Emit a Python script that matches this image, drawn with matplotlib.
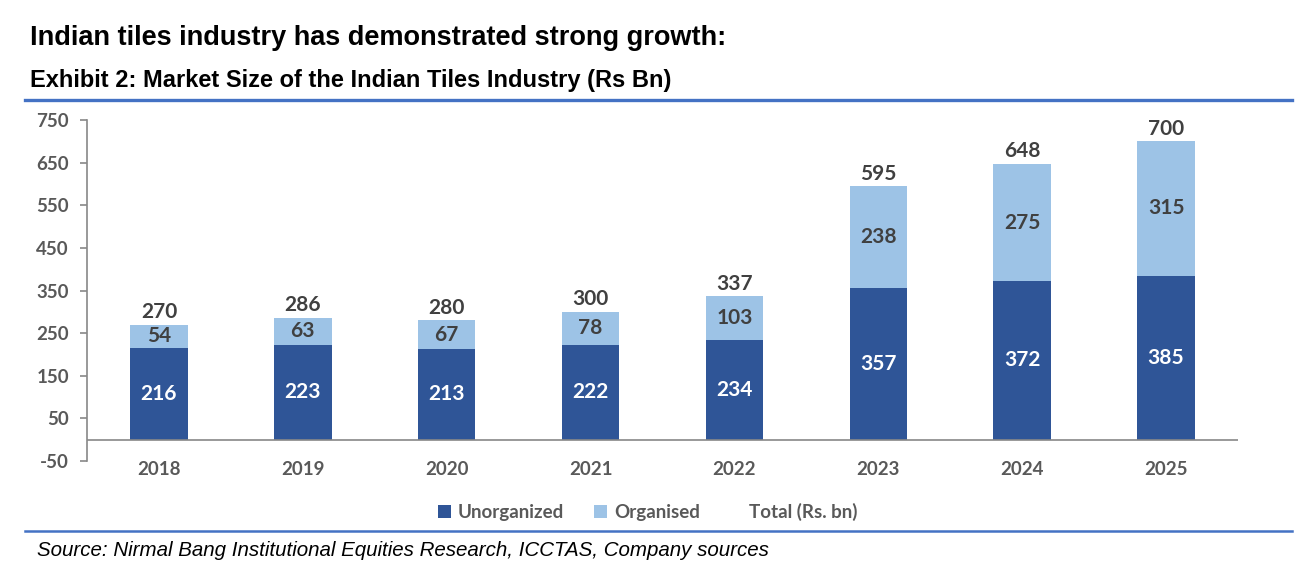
import matplotlib
matplotlib.use("Agg")
import matplotlib.pyplot as plt
from matplotlib.patches import Patch
from matplotlib.lines import Line2D

years = ["2018", "2019", "2020", "2021", "2022", "2023", "2024", "2025"]
unorganized = [216, 223, 213, 222, 234, 357, 372, 385]
organised = [54, 63, 67, 78, 103, 238, 275, 315]
total = [270, 286, 280, 300, 337, 595, 648, 700]
yticks = [-50, 50, 150, 250, 350, 450, 550, 650, 750]

DARK = "#2F5597"
LIGHT = "#9DC3E6"
LINE_BLUE = "#4472C4"
TICK_C = "#595959"
LBL_C = "#404040"
NUM_FONT = "Lato"

W, H = 1307, 575
fig = plt.figure(figsize=(W / 100, H / 100), dpi=100)

def fx(px):
    return px / W

def fy(py):
    return 1 - py / H

fig.text(fx(30), fy(38), "Indian tiles industry has demonstrated strong growth:",
         fontsize=19.5, fontweight="bold", family="Liberation Sans", va="center", ha="left", color="black")
fig.text(fx(30), fy(80), "Exhibit 2: Market Size of the Indian Tiles Industry (Rs Bn)",
         fontsize=17, fontweight="bold", family="Liberation Sans", va="center", ha="left", color="black")
fig.add_artist(Line2D([fx(25), fx(1292)], [fy(100), fy(100)], color=LINE_BLUE, lw=2.4))
fig.add_artist(Line2D([fx(25), fx(1292)], [fy(531), fy(531)], color=LINE_BLUE, lw=1.8))
fig.text(fx(37), fy(551), "Source: Nirmal Bang Institutional Equities Research, ICCTAS, Company sources",
         fontsize=14.8, fontstyle="italic", family="Liberation Sans", va="center", ha="left", color="black")

ax = fig.add_axes([fx(87), fy(461), fx(1238 - 87), (461 - 120) / H])
x = list(range(len(years)))
bw = 0.4
ax.bar(x, unorganized, width=bw, color=DARK, zorder=2)
ax.bar(x, organised, width=bw, bottom=unorganized, color=LIGHT, zorder=2)

ax.set_xlim(-0.5, len(years) - 0.5)
ax.set_ylim(-50, 750)
ax.set_yticks(yticks)
ax.set_yticklabels([str(v) for v in yticks])
ax.set_xticks(x)
ax.set_xticklabels(years)
ax.axhline(0, color="#888888", lw=1.2, zorder=3)

for s in ["top", "right", "bottom"]:
    ax.spines[s].set_visible(False)
ax.spines["left"].set_color("#888888")
ax.spines["left"].set_linewidth(1.2)
ax.tick_params(axis="y", length=5, width=1.2, color="#888888", pad=8,
               labelsize=13.5, labelcolor=TICK_C)
ax.tick_params(axis="x", length=0, pad=0, labelsize=13.5, labelcolor=TICK_C)
for lab in ax.get_yticklabels() + ax.get_xticklabels():
    lab.set_family(NUM_FONT)
    lab.set_fontweight("bold")

for i in x:
    u, o, t = unorganized[i], organised[i], total[i]
    ax.text(i, u / 2, str(u), ha="center", va="center", color="white",
            fontsize=15, fontweight="bold", family=NUM_FONT, zorder=4)
    ax.text(i, u + o / 2, str(o), ha="center", va="center", color=LBL_C,
            fontsize=15, fontweight="bold", family=NUM_FONT, zorder=4)
    ax.annotate(str(t), (i, u + o), xytext=(0, 9), textcoords="offset points",
                ha="center", va="center", color=LBL_C,
                fontsize=15, fontweight="bold", family=NUM_FONT, zorder=4)

handles = [Patch(facecolor=DARK, edgecolor="none"),
           Patch(facecolor=LIGHT, edgecolor="none"),
           Patch(facecolor="none", edgecolor="none")]
leg = fig.legend(handles, ["Unorganized", "Organised", "Total (Rs. bn)"],
                 loc="center", bbox_to_anchor=(fx(648), fy(512)), ncol=3, frameon=False,
                 handlelength=0.7, handleheight=0.7, handletextpad=0.35, columnspacing=1.6,
                 prop={"family": NUM_FONT, "weight": "bold", "size": 13.5})
for t in leg.get_texts():
    t.set_color(TICK_C)

fig.savefig("out.png", dpi=100)
